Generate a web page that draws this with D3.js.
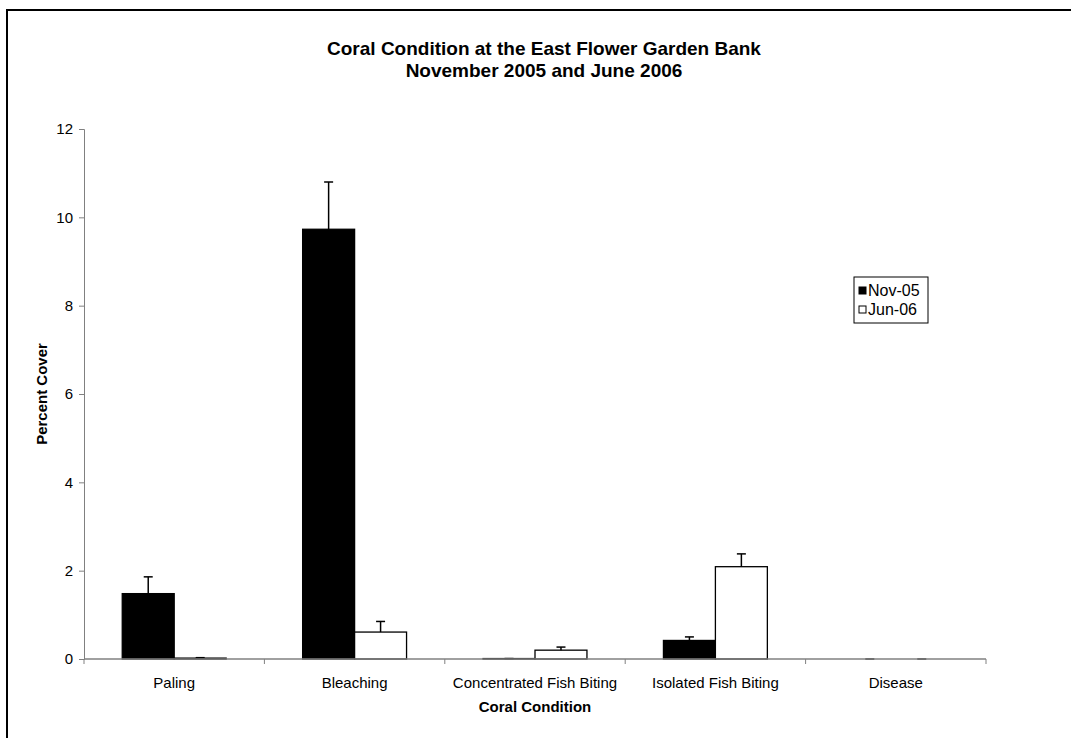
<!DOCTYPE html>
<html><head><meta charset="utf-8">
<script src="https://cdn.jsdelivr.net/npm/d3@7"></script>
<style>body{margin:0;background:#fff}svg{display:block;font-family:"Liberation Sans",Arial,sans-serif}</style>
</head><body><svg id="c" width="1071" height="738"></svg>
<script>
const categories = ["Paling","Bleaching","Concentrated Fish Biting","Isolated Fish Biting","Disease"];
const seriesNames = ["Nov-05","Jun-06"];
const nov05 = [1.48, 9.73, 0.01, 0.42, 0];
const jun06 = [0.02, 0.61, 0.20, 2.09, 0];
const nov05Err = [0.38, 1.07, 0.00, 0.08, 0];
const jun06Err = [0.01, 0.24, 0.07, 0.29, 0];
const yTicks = [0,2,4,6,8,10,12];
const titleLines = ["Coral Condition at the East Flower Garden Bank","November 2005 and June 2006"];

(function(){
const svg = d3.select("#c");
const pLeft = 84, pRight = 986, pTop = 129, pBottom = 659;

// outer border (cut by image edges)
svg.append("rect").attr("x",7).attr("y",10).attr("width",1200).attr("height",900)
  .attr("fill","none").attr("stroke","#000").attr("stroke-width",2);

const x = d3.scaleBand().domain(categories).range([pLeft,pRight]);
const y = d3.scaleLinear().domain([0,12]).range([pBottom,pTop]);
const barW = x.bandwidth()*0.288;

const series = [
  {name:seriesNames[0], vals:nov05, errs:nov05Err, fill:"#000", off:-1},
  {name:seriesNames[1], vals:jun06, errs:jun06Err, fill:"#fff", off:0}
];

// y axis
const yAxis = svg.append("g").attr("transform",`translate(${pLeft},0)`)
  .call(d3.axisLeft(y).tickValues(yTicks).tickSize(5).tickPadding(6));
yAxis.select(".domain").attr("stroke","#808080");
yAxis.selectAll(".tick line").attr("stroke","#808080");
yAxis.selectAll("text").attr("font-size",15).attr("fill","#000").attr("font-family","Liberation Sans, Arial, sans-serif");

// bars
series.forEach(s=>{
  const g = svg.append("g");
  g.selectAll("rect").data(categories).join("rect")
    .attr("x",(c)=>x(c)+x.bandwidth()/2+s.off*barW)
    .attr("y",(c,i)=>y(s.vals[i]))
    .attr("width",barW)
    .attr("height",(c,i)=>y(0)-y(s.vals[i]))
    .attr("fill",s.fill).attr("stroke","#000").attr("stroke-width",1.3);
  const cx = (c)=>x(c)+x.bandwidth()/2+s.off*barW+barW/2;
  g.selectAll("line.e").data(categories).join("line").attr("class","e")
    .attr("x1",cx).attr("x2",cx)
    .attr("y1",(c,i)=>y(s.vals[i])).attr("y2",(c,i)=>y(s.vals[i]+s.errs[i]))
    .attr("stroke","#000").attr("stroke-width",1.5);
  g.selectAll("line.cap").data(categories).join("line").attr("class","cap")
    .attr("x1",c=>cx(c)-4.5).attr("x2",c=>cx(c)+4.5)
    .attr("y1",(c,i)=>y(s.vals[i]+s.errs[i])).attr("y2",(c,i)=>y(s.vals[i]+s.errs[i]))
    .attr("stroke","#000").attr("stroke-width",1.5);
});

// x axis
const xAxisG = svg.append("g").attr("transform",`translate(0,${pBottom})`);
xAxisG.append("line").attr("x1",pLeft).attr("x2",pRight).attr("y1",0).attr("y2",0).attr("stroke","#808080").attr("stroke-width",1.5);
const bounds = categories.map(c=>x(c)).concat([x(categories[categories.length-1])+x.bandwidth()]);
xAxisG.selectAll("line.t").data(bounds).join("line").attr("class","t")
  .attr("x1",d=>d).attr("x2",d=>d).attr("y1",0).attr("y2",5).attr("stroke","#808080");
xAxisG.selectAll("text").data(categories).join("text")
  .attr("x",c=>x(c)+x.bandwidth()/2).attr("y",29)
  .attr("text-anchor","middle").attr("font-size",15).text(c=>c);

// axis titles
svg.append("text").attr("x",(pLeft+pRight)/2).attr("y",712).attr("text-anchor","middle")
  .attr("font-size",15).attr("font-weight","bold").text("Coral Condition");
svg.append("text").attr("transform",`translate(47,${(pTop+pBottom)/2}) rotate(-90)`)
  .attr("text-anchor","middle").attr("font-size",15).attr("font-weight","bold").text("Percent Cover");

// title
svg.selectAll("text.title").data(titleLines).join("text").attr("class","title")
  .attr("x",544).attr("y",(d,i)=>55+i*22).attr("text-anchor","middle")
  .attr("font-size",19).attr("font-weight","bold").text(d=>d);

// legend
const lg = svg.append("g").attr("transform","translate(854,277)");
lg.append("rect").attr("width",74).attr("height",46).attr("fill","#fff").attr("stroke","#000").attr("stroke-width",1);
series.forEach((s,i)=>{
  lg.append("rect").attr("x",5).attr("y",10+i*19).attr("width",7).attr("height",7)
    .attr("fill",s.fill).attr("stroke","#000");
  lg.append("text").attr("x",14).attr("y",19+i*19).attr("font-size",16).text(s.name);
});
})();
</script></body></html>
